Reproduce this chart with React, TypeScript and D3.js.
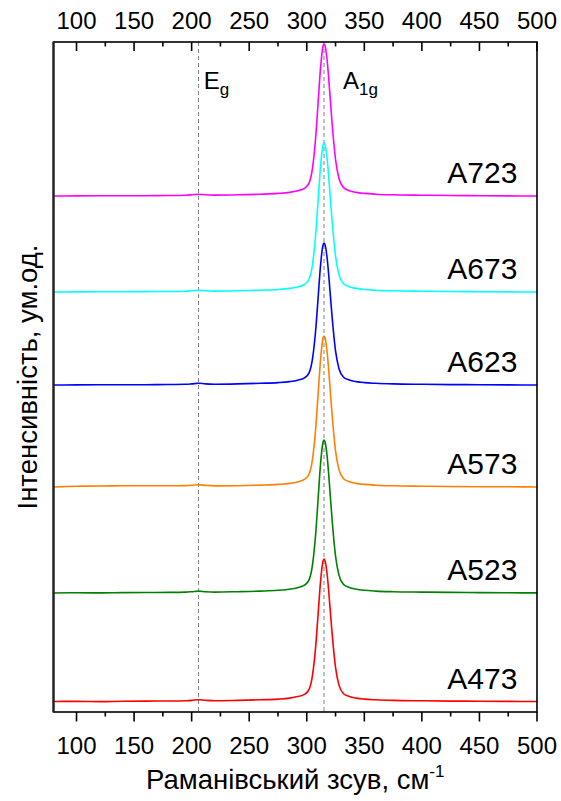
import React from "react";
import * as d3 from "d3";

// Raman shift sample positions (cm-1)
const ramanShift = [80, 100, 120, 140, 160, 180, 195, 200, 206, 212, 220, 240, 260, 275, 285, 292, 298, 302, 305, 308, 310, 312, 314, 315, 316, 318, 320, 322, 325, 328, 332, 337, 343, 350, 360, 375, 400, 425, 450, 475, 500];

// Intensities (arb. units, stacked with offsets as in the figure)
const a473 = [10.5, 10.6, 10.4, 10.7, 10.9, 11.0, 11.3, 11.6, 12.3, 11.7, 11.2, 11.6, 12.2, 12.9, 13.9, 15.4, 17.6, 22.6, 36.9, 68.9, 100.3, 130.9, 150.2, 153.0, 150.9, 134.5, 107.4, 78.9, 44.7, 26.9, 18.3, 15.5, 13.9, 12.9, 12.2, 11.6, 11.2, 10.9, 10.8, 10.6, 10.5];
const a523 = [119.0, 119.2, 119.1, 119.4, 119.5, 119.6, 119.9, 120.3, 120.9, 120.3, 119.9, 120.3, 120.9, 121.7, 122.8, 124.3, 126.8, 132.1, 147.4, 181.8, 215.5, 248.4, 269.0, 272.0, 269.8, 252.2, 223.1, 192.5, 155.8, 136.7, 127.5, 124.5, 122.8, 121.7, 120.9, 120.3, 119.9, 119.6, 119.4, 119.2, 119.1];
const a573 = [225.0, 225.8, 226.0, 226.2, 226.3, 226.2, 226.4, 226.7, 227.3, 226.6, 226.1, 226.3, 226.9, 227.6, 228.6, 230.1, 232.6, 237.8, 252.9, 286.9, 320.1, 352.6, 373.0, 376.0, 373.7, 356.4, 327.7, 297.5, 261.2, 242.4, 233.3, 230.3, 228.6, 227.6, 226.8, 226.2, 225.8, 225.5, 225.3, 225.2, 225.0];
const a623 = [327.0, 327.1, 327.2, 327.2, 327.3, 327.5, 327.7, 328.1, 328.8, 328.1, 327.8, 328.1, 328.7, 329.4, 330.4, 331.8, 334.1, 339.1, 353.3, 385.2, 416.5, 447.0, 466.2, 469.0, 466.9, 450.5, 423.6, 395.2, 361.1, 343.3, 334.8, 332.0, 330.4, 329.4, 328.7, 328.1, 327.7, 327.4, 327.3, 327.1, 327.0];
const a673 = [420.0, 420.1, 420.2, 420.3, 420.4, 420.5, 420.8, 421.2, 421.8, 421.2, 420.9, 421.2, 421.8, 422.5, 423.6, 425.1, 427.5, 432.7, 447.6, 481.1, 513.9, 545.9, 566.0, 569.0, 566.8, 549.6, 521.3, 491.5, 455.8, 437.1, 428.2, 425.2, 423.6, 422.5, 421.8, 421.2, 420.8, 420.5, 420.3, 420.1, 420.0];
const a723 = [516.0, 516.1, 516.2, 516.2, 516.3, 516.5, 516.8, 517.2, 517.8, 517.2, 516.9, 517.2, 517.8, 518.6, 519.6, 521.2, 523.6, 528.9, 544.1, 578.3, 611.8, 644.4, 665.0, 668.0, 665.7, 648.2, 619.4, 589.0, 552.5, 533.5, 524.4, 521.3, 519.6, 518.6, 517.8, 517.2, 516.8, 516.5, 516.3, 516.1, 516.0];

const seriesNames = ["A473", "A523", "A573", "A623", "A673", "A723"];
const seriesValues = [a473, a523, a573, a623, a673, a723];
const seriesColors = ["#ff0000", "#008000", "#ff8000", "#0000ff", "#00ffff", "#ff00ff"];

const majorTicks = [100, 150, 200, 250, 300, 350, 400, 450, 500];
const minorTicks = [125, 175, 225, 275, 325, 375, 425, 475];

const modePositions = [206, 315];
const modeLabels = [{ main: "E", sub: "g" }, { main: "A", sub: "1g" }];
const modeLabelX = [210.5, 331.5];

const xDomain = [80, 500];
const yDomain = [0, 670];

const FONT = "'Liberation Sans', Arial, Helvetica, sans-serif";

export default function App() {
  const W = 561;
  const H = 801;
  const left = 53.5;
  const right = 537;
  const top = 42;
  const bottom = 712;

  const x = d3.scaleLinear().domain(xDomain).range([left, right]);
  const y = d3.scaleLinear().domain(yDomain).range([bottom, top]);

  const line = d3
    .line<[number, number]>()
    .x((d) => x(d[0]))
    .y((d) => y(d[1]))
    .curve(d3.curveMonotoneX);

  return (
    <svg
      width={W}
      height={H}
      style={{ position: "absolute", left: 0, top: 0, background: "#fff" }}
      fontFamily={FONT}
    >
      <defs>
        <clipPath id="plot">
          <rect x={left} y={top} width={right - left} height={bottom - top} />
        </clipPath>
      </defs>

      {/* mode dashed lines */}
      {modePositions.map((m) => (
        <line
          key={m}
          x1={x(m)}
          x2={x(m)}
          y1={top}
          y2={bottom}
          stroke="#808080"
          strokeWidth={1}
          strokeDasharray="4,3"
        />
      ))}

      {/* spectra */}
      <g clipPath="url(#plot)">
        {seriesValues.map((vals, i) => (
          <path
            key={seriesNames[i]}
            d={line(ramanShift.map((r, j) => [r, vals[j]] as [number, number])) || ""}
            fill="none"
            stroke={seriesColors[i]}
            strokeWidth={1.6}
          />
        ))}
      </g>

      {/* series labels */}
      {seriesValues.map((vals, i) => (
        <text
          key={"l" + i}
          x={x(483)}
          y={y(vals[vals.length - 1]) - 13}
          textAnchor="end"
          fontSize={30}
          fill="#000"
        >
          {seriesNames[i]}
        </text>
      ))}

      {/* mode labels */}
      {modeLabels.map((lab, i) => (
        <text key={"m" + i} x={x(modeLabelX[i])} y={89} fontSize={24} fill="#000">
          {lab.main}
          <tspan fontSize={17} dy={6}>
            {lab.sub}
          </tspan>
        </text>
      ))}

      {/* frame */}
      <rect
        x={left}
        y={top}
        width={right - left}
        height={bottom - top}
        fill="none"
        stroke="#000"
        strokeWidth={1.6}
      />
      <line x1={left} x2={left} y1={top} y2={bottom} stroke="#222" strokeWidth={2.2} />

      {/* top axis ticks (inward) */}
      {majorTicks.map((t) => (
        <line key={"tt" + t} x1={x(t)} x2={x(t)} y1={top} y2={top + 9} stroke="#000" strokeWidth={1.6} />
      ))}
      {minorTicks.map((t) => (
        <line key={"tm" + t} x1={x(t)} x2={x(t)} y1={top} y2={top + 4.5} stroke="#000" strokeWidth={1.6} />
      ))}
      {/* bottom axis ticks (outward) */}
      {majorTicks.map((t) => (
        <line key={"bt" + t} x1={x(t)} x2={x(t)} y1={bottom} y2={bottom + 9.5} stroke="#000" strokeWidth={1.6} />
      ))}
      {minorTicks.map((t) => (
        <line key={"bm" + t} x1={x(t)} x2={x(t)} y1={bottom} y2={bottom + 4.5} stroke="#000" strokeWidth={1.6} />
      ))}

      {/* tick labels */}
      {majorTicks.map((t) => (
        <text key={"tl" + t} x={x(t)} y={29} textAnchor="middle" fontSize={24} fill="#000">
          {t}
        </text>
      ))}
      {majorTicks.map((t) => (
        <text key={"bl" + t} x={x(t)} y={754} textAnchor="middle" fontSize={24} fill="#000">
          {t}
        </text>
      ))}

      {/* axis titles */}
      <text x={(left + right) / 2} y={789} textAnchor="middle" fontSize={27.5} fill="#000">
        Раманівський зсув, см
        <tspan fontSize={17} dy={-12}>
          -1
        </tspan>
      </text>
      <text
        transform={`translate(37, 377) rotate(-90)`}
        textAnchor="middle"
        fontSize={27.5}
        fill="#000"
      >
        Інтенсивність, ум.од.
      </text>
    </svg>
  );
}
